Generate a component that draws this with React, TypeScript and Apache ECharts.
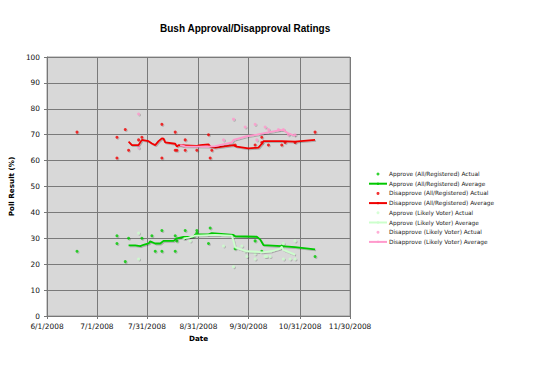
import React, { useEffect, useRef } from "react";
import * as echarts from "echarts";

// ---- data (dates are month/day in 2008) ----
const xTickDates = ["6/1", "7/1", "7/31", "8/31", "9/30", "10/31", "11/30"];
const xTickLabels = ["6/1/2008", "7/1/2008", "7/31/2008", "8/31/2008", "9/30/2008", "10/31/2008", "11/30/2008"];

const approveRegActual: [string, number][] = [
  ["6/19", 25], ["7/13", 31], ["7/13", 28], ["7/18", 21], ["7/20", 30], ["7/28", 30],
  ["8/3", 31], ["8/5", 25], ["8/9", 33], ["8/9", 25], ["8/17", 31], ["8/17", 25],
  ["8/18", 29], ["8/23", 33], ["8/23", 30], ["8/30", 33], ["8/30", 32], ["9/6", 28],
  ["9/7", 34], ["9/22", 26], ["10/4", 29], ["10/8", 25], ["10/20", 27], ["11/9", 23],
];
const approveRegAverage: [string, number][] = [
  ["7/20", 27.3], ["7/24", 27.3], ["7/27", 27], ["7/29", 27.5], ["8/1", 28], ["8/2", 28.8],
  ["8/5", 28], ["8/8", 28], ["8/10", 29], ["8/16", 29], ["8/17", 29.5], ["8/18", 30],
  ["8/22", 30.5], ["8/28", 30.6], ["8/29", 31.5], ["9/6", 31.5], ["9/8", 32], ["9/21", 31.3],
  ["9/22", 30.8], ["10/5", 30.6], ["10/7", 29.6], ["10/9", 27.4], ["10/20", 27], ["10/28", 26.6],
  ["11/9", 25.7],
];
const disapproveRegActual: [string, number][] = [
  ["6/19", 71], ["7/13", 69], ["7/13", 61], ["7/18", 72], ["7/20", 64], ["7/26", 68],
  ["7/28", 69], ["8/9", 74], ["8/9", 61], ["8/17", 71], ["8/17", 64], ["8/18", 64],
  ["8/23", 68], ["8/23", 64], ["8/30", 64], ["9/6", 70], ["9/7", 61], ["9/8", 64],
  ["9/22", 66], ["10/4", 66], ["10/8", 69], ["10/8", 67], ["10/12", 66], ["10/20", 66],
  ["10/22", 67], ["10/28", 67], ["11/9", 71],
];
const disapproveRegAverage: [string, number][] = [
  ["7/20", 67.3], ["7/22", 66], ["7/26", 66], ["7/28", 68], ["8/1", 67.5], ["8/3", 66.6],
  ["8/5", 66], ["8/7", 67.5], ["8/9", 68.6], ["8/10", 68.5], ["8/11", 67], ["8/17", 66.5],
  ["8/18", 65.4], ["8/19", 66], ["8/30", 65.7], ["9/1", 66], ["9/6", 66.3], ["9/7", 65.4],
  ["9/10", 65], ["9/21", 66], ["9/23", 65.4], ["9/30", 64.7], ["10/6", 65], ["10/8", 66.5],
  ["10/9", 67.5], ["10/20", 67.5], ["10/28", 67.3], ["11/9", 68],
];
const approveLvActual: [string, number][] = [
  ["7/26", 32], ["7/26", 22], ["8/22", 30], ["8/26", 29], ["9/15", 27], ["9/21", 19],
  ["9/26", 27], ["9/28", 25], ["9/29", 23], ["10/4", 22], ["10/4", 24], ["10/10", 23],
  ["10/11", 23], ["10/13", 23], ["10/21", 22], ["10/21", 28], ["10/25", 22], ["10/28", 22],
  ["10/28", 29],
];
const approveLvAverage: [string, number][] = [
  ["8/22", 30], ["8/25", 30.3], ["8/29", 31], ["9/6", 31.2], ["9/10", 31.3], ["9/20", 31],
  ["9/21", 29], ["9/22", 26.5], ["9/26", 25.6], ["9/29", 25], ["10/5", 24.8], ["10/8", 24.6],
  ["10/14", 25], ["10/19", 26], ["10/20", 26.8], ["10/21", 25.5], ["10/25", 24.5], ["10/28", 23.7],
];
const disapproveLvActual: [string, number][] = [
  ["7/26", 78], ["7/26", 65], ["8/22", 66], ["9/15", 68], ["9/21", 76], ["9/28", 73],
  ["10/4", 74], ["10/5", 68], ["10/10", 73], ["10/12", 72], ["10/18", 72], ["10/21", 72],
  ["10/24", 70], ["10/28", 70],
];
const disapproveLvAverage: [string, number][] = [
  ["8/20", 66], ["8/23", 65.5], ["9/6", 65.4], ["9/10", 65.6], ["9/20", 67], ["9/21", 68],
  ["9/28", 69.3], ["10/5", 70], ["10/11", 70.8], ["10/19", 71.8], ["10/21", 71.8], ["10/24", 70.5],
  ["10/28", 69.6],
];

const BASE = Date.UTC(2008, 5, 1);
const dayOf = (md: string) => {
  const [m, d] = md.split("/").map(Number);
  return (Date.UTC(2008, m - 1, d) - BASE) / 864e5;
};
const toXY = (arr: [string, number][]) => arr.map(([d, v]) => [dayOf(d), v]);

const GREEN = "#00c800";
const RED = "#f00000";
const PALE = "#ccffcc";
const PINK = "#ff99cc";

const shadow = {
  shadowColor: "rgba(0,0,0,0.22)",
  shadowBlur: 1,
  shadowOffsetX: 1,
  shadowOffsetY: 1,
};

function scatter(name: string, arr: [string, number][], color: string) {
  return {
    name,
    type: "scatter",
    data: toXY(arr),
    symbolSize: 3,
    itemStyle: { color, ...shadow },
  };
}
function line(name: string, arr: [string, number][], color: string) {
  return {
    name,
    type: "line",
    data: toXY(arr),
    symbol: "none",
    lineStyle: { color, width: 1.8, ...shadow },
    itemStyle: { color },
  };
}

export default function App() {
  const ref = useRef<HTMLDivElement>(null);
  useEffect(() => {
    if (!ref.current) return;
    const chart = echarts.init(ref.current, undefined, { renderer: "svg" });
    const tickValues = xTickDates.map(dayOf);
    chart.setOption({
      animation: false,
      backgroundColor: "#ffffff",
      title: {
        text: "Bush Approval/Disapproval Ratings",
        left: 160,
        top: 23,
        padding: 0,
        textStyle: { fontFamily: "Liberation Sans", fontWeight: "bold", fontSize: 10, color: "#000" },
      },
      grid: {
        left: 43,
        top: 57,
        width: 307,
        height: 259,
        show: true,
        backgroundColor: "#d8d8d8",
        borderColor: "#9a9a9a",
        borderWidth: 1,
      },
      legend: {
        orient: "vertical",
        left: 368,
        top: 170,
        itemWidth: 18,
        itemHeight: 3,
        itemGap: 1.7,
        padding: 0,
        textStyle: { fontFamily: "DejaVu Sans", fontSize: 5.8, lineHeight: 8, color: "#222", padding: [0, 0, 0, -3] },
        data: [
          "Approve (All/Registered) Actual",
          "Approve (All/Registered) Average",
          "Disapprove (All/Registered) Actual",
          "Disapprove (All/Registered) Average",
          "Approve (Likely Voter) Actual",
          "Approve (Likely Voter) Average",
          "Disapprove (Likely Voter) Actual",
          "Disapprove (Likely Voter) Average",
        ],
      },
      xAxis: {
        type: "value",
        min: tickValues[0],
        max: tickValues[tickValues.length - 1],
        name: "Date",
        nameLocation: "middle",
        nameGap: 19,
        nameTextStyle: { fontFamily: "DejaVu Sans", fontWeight: "bold", fontSize: 7.2, color: "#000" },
        axisLine: { show: true, lineStyle: { color: "#777" } },
        axisTick: { show: true, length: 3, customValues: tickValues, lineStyle: { color: "#777" } },
        axisLabel: {
          customValues: tickValues,
          margin: 7,
          fontFamily: "DejaVu Sans",
          fontSize: 7.4,
          color: "#111",
          formatter: (v: number) => {
            const i = tickValues.findIndex((t) => Math.abs(t - v) < 0.5);
            return i >= 0 ? xTickLabels[i] : "";
          },
        },
        splitLine: { show: true, lineStyle: { color: "#7a7a7a", width: 1 } },
      },
      yAxis: {
        type: "value",
        min: 0,
        max: 100,
        interval: 10,
        name: "Poll Result (%)",
        nameLocation: "middle",
        nameGap: 26,
        nameTextStyle: { fontFamily: "DejaVu Sans", fontWeight: "bold", fontSize: 7.2, color: "#000" },
        axisLine: { show: true, lineStyle: { color: "#777" } },
        axisTick: { show: true, length: 3, lineStyle: { color: "#777" } },
        axisLabel: { margin: 7, fontFamily: "DejaVu Sans", fontSize: 7.4, color: "#111" },
        splitLine: { show: true, lineStyle: { color: "#7a7a7a", width: 1 } },
      },
      series: [
        scatter("Approve (All/Registered) Actual", approveRegActual, GREEN),
        line("Approve (All/Registered) Average", approveRegAverage, GREEN),
        scatter("Disapprove (All/Registered) Actual", disapproveRegActual, RED),
        line("Disapprove (All/Registered) Average", disapproveRegAverage, RED),
        scatter("Approve (Likely Voter) Actual", approveLvActual, PALE),
        line("Approve (Likely Voter) Average", approveLvAverage, PALE),
        scatter("Disapprove (Likely Voter) Actual", disapproveLvActual, PINK),
        line("Disapprove (Likely Voter) Average", disapproveLvAverage, PINK),
      ],
    });
    return () => chart.dispose();
  }, []);
  return <div ref={ref} style={{ width: 540, height: 367, position: "absolute", left: 0, top: 0 }} />;
}
